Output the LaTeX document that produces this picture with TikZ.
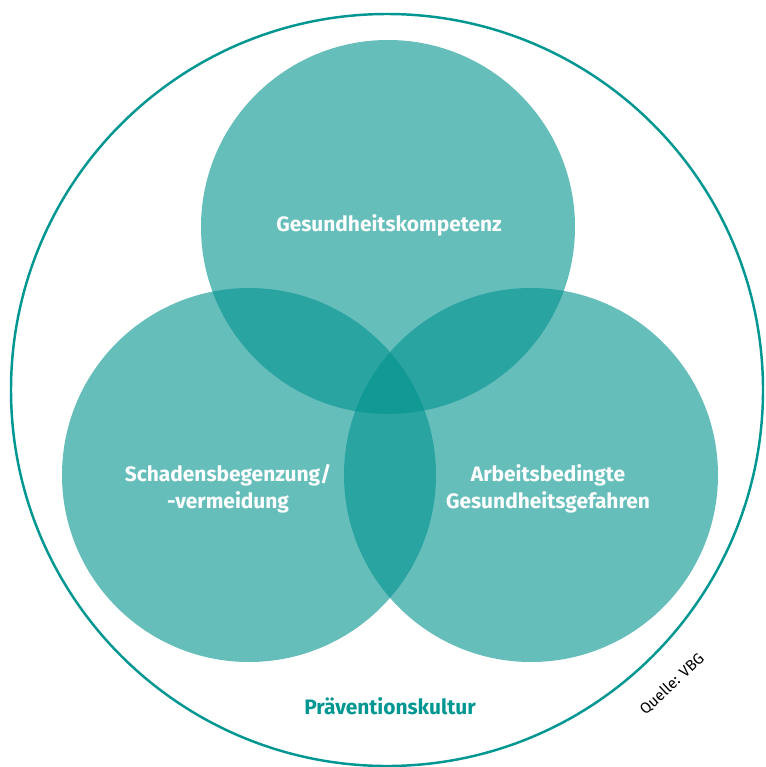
\documentclass[tikz,border=0pt]{standalone}
\usepackage{fontspec}
\setmainfont{Fira Sans}
\definecolor{vbgteal}{RGB}{0,146,142}
\definecolor{vbgline}{RGB}{0,150,145}
\begin{document}
\begin{tikzpicture}[x=0.02cm,y=-0.02cm,line join=round,line cap=round]
\def\rr{187}
\tikzset{petal/.style={fill=vbgteal,fill opacity=0.6},
lbl/.style={text=white,font=\fontsize{11.9}{15.3}\selectfont\bfseries,align=center}}
\useasboundingbox (0,0) rectangle (765,767);
% outer ring
\draw[vbgline,line width=1.4pt] (387,390) circle (376);
% the three overlapping circles
\fill[petal] (388,227) circle (\rr);
\fill[petal] (249,475) circle (\rr);
\fill[petal] (531,475) circle (\rr);
\node[lbl] (top) at (389,225) {Gesundheitskompetenz};
\node[lbl] (left) at (228,489) {Schadensbegenzung/\\-vermeidung};
\node[lbl] (right) at (548,489) {Arbeitsbedingte\\Gesundheitsgefahren};
\node[text=vbgline,font=\fontsize{11.9}{15}\selectfont\bfseries] (kultur) at (390,706) {Präventionskultur};
\node[rotate=43,font=\fontsize{8.7}{10}\selectfont] (quelle) at (672,684) {Quelle: VBG};
\end{tikzpicture}
\end{document}
